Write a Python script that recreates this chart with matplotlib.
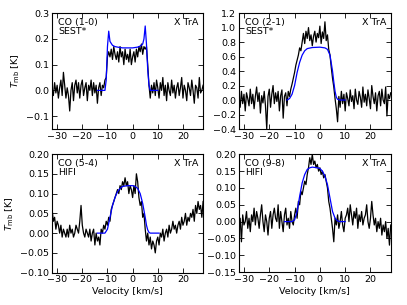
"""CO line profiles of X TrA with model fits (2x2 panels)."""

import matplotlib
matplotlib.use("Agg")
import matplotlib.pyplot as plt
import numpy as np

# velocity channels of the observed spectra [km/s]
vel = np.arange(-32.0, 28.01, 0.5)

co10 = [
    0.00, -0.02, 0.03, -0.01, 0.02, -0.03, 0.01, 0.04, -0.02, 0.07,
    0.02, -0.03, 0.01, -0.02, -0.08, 0.00, 0.03, -0.04, 0.02, 0.04,
    -0.01, 0.03, -0.03, 0.02, 0.04, -0.02, 0.01, 0.03, -0.04, 0.02,
    0.00, 0.04, -0.02, 0.03, -0.01, 0.02, -0.05, 0.01, 0.03, -0.02,
    0.02, 0.01, 0.04, 0.05, 0.13, 0.15, 0.13, 0.16, 0.12, 0.17,
    0.14, 0.12, 0.15, 0.11, 0.17, 0.13, 0.15, 0.10, 0.16, 0.12,
    0.14, 0.11, 0.16, 0.10, 0.13, 0.15, 0.11, 0.16, 0.13, 0.17,
    0.15, 0.18, 0.14, 0.17, 0.16, 0.17, 0.10, 0.02, -0.03, 0.02,
    -0.01, 0.03, -0.02, 0.04, 0.01, -0.03, 0.03, 0.00, 0.05, -0.02,
    0.02, -0.04, 0.03, 0.00, -0.02, 0.04, -0.01, 0.02, -0.03, 0.01,
    0.03, -0.02, 0.01, 0.05, -0.03, 0.02, 0.00, -0.04, 0.03, 0.01,
    -0.02, 0.04, 0.00, -0.05, 0.02, 0.01, -0.03, 0.05, -0.01, 0.00,
    0.02,
]

co21 = [
    0.05, -0.10, 0.12, -0.05, 0.08, -0.15, 0.10, 0.02, -0.08, 0.15,
    -0.05, 0.08, -0.12, 0.05, 0.18, -0.02, 0.10, -0.18, 0.06, -0.04,
    0.12, -0.08, -0.40, 0.05, 0.15, -0.10, 0.08, 0.20, -0.05, 0.10,
    -0.02, 0.12, -0.15, 0.06, 0.14, -0.25, 0.05, 0.10, -0.08, 0.12,
    0.05, 0.15, 0.22, 0.30, 0.38, 0.48, 0.55, 0.62, 0.72, 0.68,
    0.80, 0.92, 0.78, 0.95, 0.85, 1.00, 0.82, 0.90, 0.75, 0.88,
    0.95, 0.80, 0.92, 0.86, 1.02, 0.78, 0.94, 0.85, 1.08, 0.82,
    0.90, 0.70, 0.62, 0.45, 0.30, 0.18, 0.02, -0.12, -0.30, 0.05,
    -0.10, 0.12, -0.05, 0.08, -0.15, 0.10, 0.02, -0.08, 0.14, -0.02,
    0.06, -0.12, 0.15, 0.00, -0.06, 0.12, 0.04, -0.10, 0.18, -0.03,
    0.08, -0.08, 0.14, 0.02, -0.12, 0.20, 0.05, -0.05, 0.10, -0.15,
    0.06, 0.12, -0.08, 0.15, 0.00, -0.05, 0.18, -0.22, 0.08, 0.02,
    0.10,
]

co54 = [
    0.06, 0.03, 0.04, 0.01, 0.03, 0.02, 0.00, 0.02, -0.01, 0.01,
    0.00, -0.01, 0.01, -0.01, 0.02, 0.00, 0.01, -0.01, 0.00, 0.02,
    0.01, 0.00, 0.03, 0.07, 0.02, 0.00, -0.01, 0.01, 0.00, -0.01,
    0.01, -0.02, 0.00, 0.01, -0.03, 0.00, -0.02, -0.01, -0.03, 0.01,
    0.00, 0.02, 0.01, 0.03, 0.02, 0.04, 0.03, 0.06, 0.07, 0.08,
    0.09, 0.10, 0.11, 0.10, 0.12, 0.11, 0.13, 0.12, 0.14, 0.12,
    0.13, 0.10, 0.12, 0.11, 0.09, 0.12, 0.10, 0.15, 0.13, 0.09,
    0.07, 0.08, 0.04, 0.05, 0.01, -0.02, 0.00, -0.03, -0.01, -0.04,
    -0.02, -0.03, -0.05, -0.02, -0.01, -0.03, 0.00, -0.01, 0.01, -0.02,
    0.00, 0.01, -0.01, 0.02, 0.00, 0.01, 0.03, 0.01, 0.02, 0.00,
    0.02, 0.03, 0.01, 0.04, 0.02, 0.03, 0.05, 0.02, 0.04, 0.03,
    0.05, 0.04, 0.06, 0.03, 0.07, 0.05, 0.08, 0.06, 0.07, 0.04,
    0.08,
]

co98 = [
    -0.02, 0.01, -0.06, 0.02, -0.01, 0.00, 0.03, -0.02, 0.01, -0.03,
    0.02, 0.00, 0.04, -0.01, 0.03, 0.01, -0.02, 0.02, 0.05, 0.00,
    -0.03, 0.02, 0.00, -0.04, 0.01, 0.03, -0.02, 0.02, 0.04, 0.01,
    0.00, 0.05, -0.02, 0.03, 0.00, -0.03, 0.02, 0.04, -0.01, 0.01,
    -0.02, 0.03, 0.00, -0.01, 0.02, 0.04, 0.01, 0.06, 0.05, 0.09,
    0.08, 0.10, 0.12, 0.11, 0.14, 0.16, 0.19, 0.17, 0.20, 0.17,
    0.18, 0.16, 0.17, 0.15, 0.16, 0.14, 0.15, 0.13, 0.14, 0.12,
    0.10, 0.06, 0.04, 0.01, -0.02, -0.06, 0.01, -0.01, 0.02, -0.02,
    0.00, 0.03, -0.01, -0.03, 0.01, 0.02, 0.04, 0.00, 0.05, 0.02,
    -0.01, 0.03, 0.01, 0.04, -0.02, 0.02, 0.00, 0.03, -0.01, 0.01,
    0.02, 0.05, 0.00, -0.02, 0.01, 0.06, 0.02, -0.01, 0.01, -0.03,
    0.00, -0.02, 0.01, -0.04, -0.01, -0.03, 0.00, -0.05, -0.02, -0.07,
    -0.01,
]

# model line profiles
mod10_v = [-14, -11, -10.5, -10, -9.5, -9, -8, -7, -6, -4, -2, 0, 2, 3, 4, 4.5, 5, 5.5, 6, 6.5, 7, 10]
mod10_t = [0, 0, 0.04, 0.17, 0.23, 0.19, 0.175, 0.17, 0.168, 0.165, 0.165, 0.165, 0.168, 0.172,
           0.18, 0.20, 0.25, 0.18, 0.08, 0.02, 0.0, 0.0]

mod21_v = [-13, -12, -11, -10, -9, -8, -7, -6, -5, -3, 0, 2, 3, 4, 5, 5.5, 6, 6.5, 7, 8, 10]
mod21_t = [0, 0.02, 0.08, 0.20, 0.38, 0.52, 0.62, 0.68, 0.71, 0.725, 0.73, 0.72, 0.70, 0.62,
           0.40, 0.25, 0.12, 0.04, 0.01, 0.0, 0.0]

mod54_v = [-14, -11, -10, -9, -8, -7, -6, -5, -4, -2, 0, 1, 2, 3, 4, 5, 5.5, 6, 6.5, 7, 10.5]
mod54_t = [0, 0, 0.01, 0.04, 0.07, 0.09, 0.105, 0.113, 0.118, 0.12, 0.12, 0.118, 0.113, 0.10,
           0.075, 0.04, 0.02, 0.008, 0.002, 0.0, 0.0]

mod98_v = [-14, -11, -10, -9, -8, -7, -6, -5, -4, -3, -1, 0, 1, 2, 3, 4, 5, 6, 7, 8, 10]
mod98_t = [0, 0, 0.005, 0.03, 0.075, 0.115, 0.14, 0.155, 0.16, 0.162, 0.16, 0.158, 0.15, 0.135,
           0.11, 0.07, 0.03, 0.01, 0.002, 0.0, 0.0]

lines = ["CO (1-0)\nSEST*", "CO (2-1)\nSEST*", "CO (5-4)\nHIFI", "CO (9-8)\nHIFI"]
spectra = [co10, co21, co54, co98]
models = [(mod10_v, mod10_t), (mod21_v, mod21_t), (mod54_v, mod54_t), (mod98_v, mod98_t)]
ylims = [(-0.15, 0.3), (-0.4, 1.2), (-0.1, 0.2), (-0.15, 0.2)]
yticks = [np.arange(-0.1, 0.31, 0.1), np.arange(-0.4, 1.21, 0.2),
          np.arange(-0.1, 0.21, 0.05), np.arange(-0.15, 0.21, 0.05)]
yfmt = ["%.1f", "%.1f", "%.2f", "%.2f"]

positions = [
    [0.128, 0.577, 0.371, 0.380],
    [0.587, 0.577, 0.373, 0.380],
    [0.128, 0.106, 0.371, 0.389],
    [0.587, 0.108, 0.373, 0.386],
]

FS = 6.8
fig = plt.figure(figsize=(4.07, 3.05), dpi=100)

for i in range(4):
    ax = fig.add_axes(positions[i])
    ax.plot(vel, spectra[i], color="black", lw=0.9)
    ax.plot(models[i][0], models[i][1], color="blue", lw=0.9)
    ax.set_xlim(-32, 28)
    ax.set_ylim(*ylims[i])
    ax.set_xticks([-30, -20, -10, 0, 10, 20])
    ax.set_yticks(yticks[i])
    ax.set_yticklabels([(yfmt[i] % v).replace("-", "\u2212") for v in yticks[i]])
    ax.tick_params(direction="in", top=True, right=True, length=3.5, width=0.6, labelsize=FS, pad=2)
    for s in ax.spines.values():
        s.set_linewidth(0.8)
    ax.text(0.04, 0.96, lines[i], transform=ax.transAxes, ha="left", va="top", fontsize=FS, linespacing=1.0)
    ax.text(0.97, 0.96, "X TrA", transform=ax.transAxes, ha="right", va="top", fontsize=FS)
    if i % 2 == 0:
        ax.set_ylabel(r"$T_{\rm mb}$ [K]", fontsize=FS, labelpad=3)
    if i >= 2:
        ax.set_xlabel("Velocity [km/s]", fontsize=FS, labelpad=2)

fig.savefig("out.png", dpi=100)
